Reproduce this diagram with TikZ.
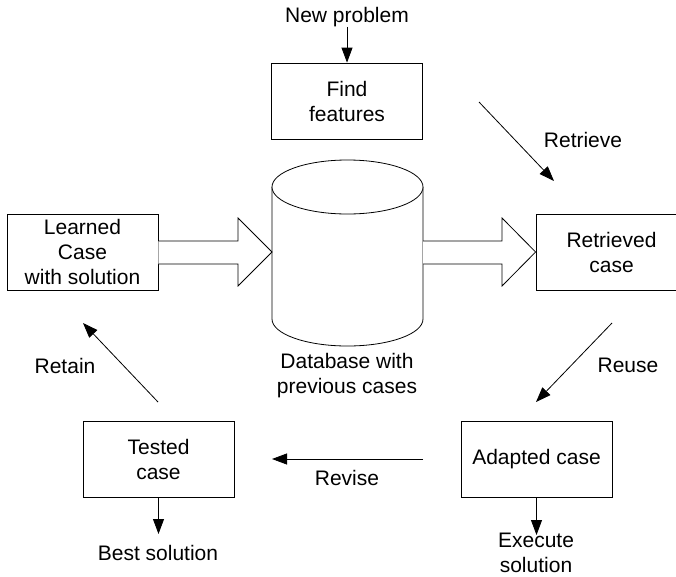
\documentclass[tikz,border=0pt]{standalone}
\usepackage{fontspec}
\setmainfont{Liberation Sans}
\usetikzlibrary{arrows.meta}
\begin{document}
\begin{tikzpicture}[x=1pt,y=-1pt,
  every node/.style={font=\fontsize{21}{25}\selectfont, align=center, inner sep=0pt},
  box/.style={draw, line width=0.8pt, minimum width=151pt, minimum height=76pt},
  conn/.style={line width=0.8pt, -{Triangle[length=15pt,width=11pt]}},
  outline/.style={line width=0.8pt, fill=white}]
\useasboundingbox (0,0) rectangle (676,576);
% boxes
\node[box] (find) at (347,101) {Find\\features};
\node[box] (learned) at (82.5,252) {Learned\\Case\\with solution};
\node[box] (retrieved) at (611.5,252) {Retrieved\\case};
\node[box] (adapted) at (536.5,459.5) {Adapted case};
\node[box] (tested) at (158.5,459.5) {Tested\\case};
% free labels
\node (newp) at (347,17) {New problem};
\node (retrieve) at (583,140) {Retrieve};
\node (reuse) at (628,365) {Reuse};
\node (retain) at (65,366) {Retain};
\node (revise) at (347,478) {Revise};
\node (best) at (158,553) {Best solution};
\node (exec) at (536,553) {Execute\\solution};
\node (db) at (347,376) {Database with\\previous cases};
% cylinder
\coordinate (dbtop) at (347.5,187);
\draw[outline] (272,187) -- (272,319) arc[start angle=180, end angle=360, x radius=75.5, y radius=-27] -- (423,187);
\draw[outline] (dbtop) ellipse[x radius=75.5, y radius=27];
\coordinate (dbL) at (272,252);
\coordinate (dbR) at (423,252);
% block arrows
\draw[outline, line join=miter] (learned.east |- 0,241) -- (238,241) -- (238,218) -- (dbL) -- (238,286) -- (238,264) -- (learned.east |- 0,264);
\draw[outline, line join=miter] (dbR |- 0,241) -- (502,241) -- (502,218) -- (retrieved.west) -- (502,286) -- (502,264) -- (dbR |- 0,264);
% connectors
\draw[conn] (newp.south) -- (find.north);
\coordinate (rs) at (479,102); \coordinate (re) at (554,181);
\draw[conn] (rs) -- (re);
\coordinate (us) at (612,323); \coordinate (ue) at (536,402);
\draw[conn] (us) -- (ue);
\coordinate (ts) at (158,402); \coordinate (te) at (83,323);
\draw[conn] (ts) -- (te);
\coordinate (vs) at (423,459); \coordinate (ve) at (272,459);
\draw[conn] (vs) -- (ve);
\draw[conn] (tested.south) -- (158.5,534);
\draw[conn] (adapted.south) -- (adapted.south |- 0,535);
\end{tikzpicture}
\end{document}
